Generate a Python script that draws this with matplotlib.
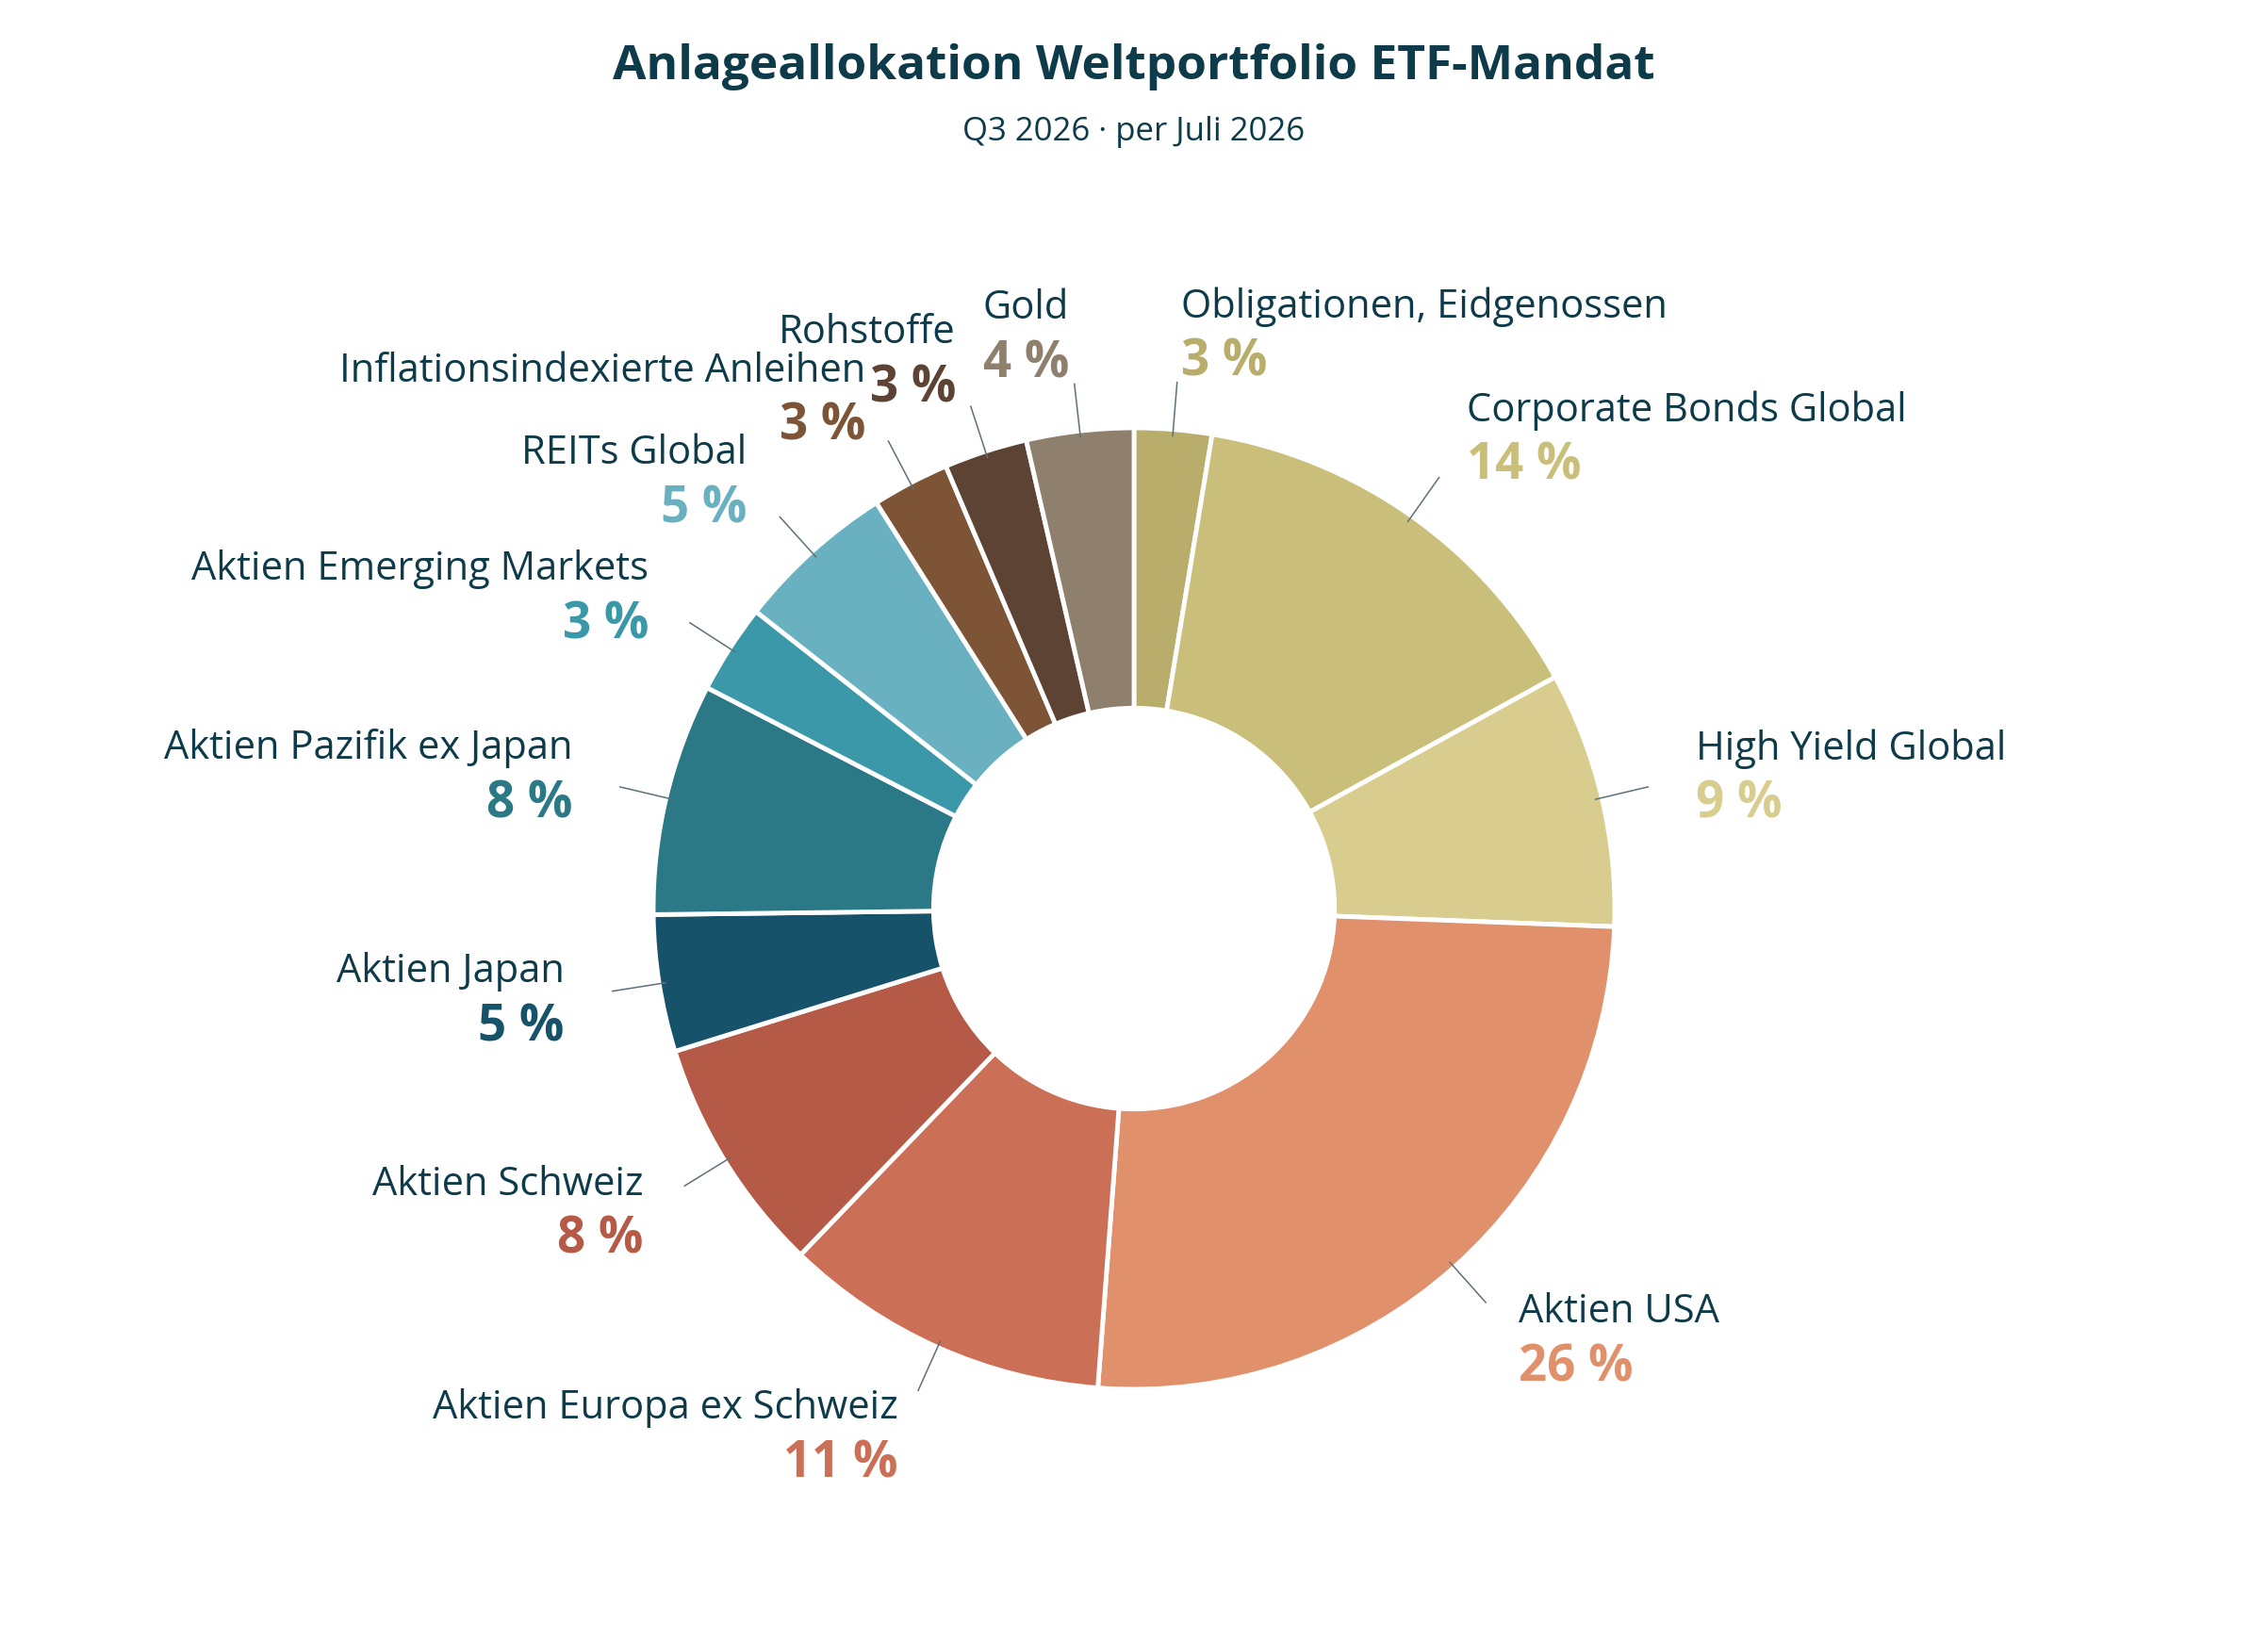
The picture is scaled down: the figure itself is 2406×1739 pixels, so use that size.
import matplotlib.pyplot as plt
import numpy as np

plt.rcParams['font.family'] = ['Open Sans', 'DejaVu Sans']

# Asset classes, clockwise from 12 o'clock
categories = [
    'Obligationen, Eidgenossen', 'Corporate Bonds Global', 'High Yield Global',
    'Aktien USA', 'Aktien Europa ex Schweiz', 'Aktien Schweiz', 'Aktien Japan',
    'Aktien Pazifik ex Japan', 'Aktien Emerging Markets', 'REITs Global',
    'Inflationsindexierte Anleihen', 'Rohstoffe', 'Gold',
]
weights = [2.6, 14.4, 8.6, 25.6, 11.0, 8.0, 4.6, 7.8, 3.0, 5.4, 2.6, 2.8, 3.6]
colors = [
    '#b9ad6b', '#c9bf7a', '#d8cd8e', '#e0916b', '#cb6f56', '#b55a47', '#16526a',
    '#2b7887', '#3a98a8', '#69b1c0', '#7e5436', '#5c4334', '#8f7f6d',
]

text_color = '#0d3b4a'
W, H = 2406, 1740
cx, cy, R = 1203, 965, 510  # pie centre / radius in pixels

fig = plt.figure(figsize=(W / 100, H / 100), dpi=100)
ax = fig.add_axes([0, 0, 1, 1])

wedges, _ = ax.pie(weights, colors=colors, startangle=90, counterclock=False,
                   radius=1.0,
                   wedgeprops=dict(width=0.583, edgecolor='white', linewidth=3.5))

# pie() sets its own limits, so set ours afterwards
ax.set_xlim(-cx / R, (W - cx) / R)
ax.set_ylim(-(H - cy) / R, cy / R)
ax.set_aspect('equal')
ax.axis('off')

for w, name, val, col in zip(wedges, categories, weights, colors):
    ang = np.deg2rad((w.theta1 + w.theta2) / 2)
    dx, dy = np.cos(ang), np.sin(ang)
    ax.plot([0.985 * dx, 1.10 * dx], [0.985 * dy, 1.10 * dy],
            color='#5d707a', lw=1.1, solid_capstyle='butt')
    tx, ty = 1.2 * dx, 1.2 * dy
    ha = 'left' if dx >= 0 else 'right'
    ax.text(tx, ty + 0.058, name, ha=ha, va='center', fontsize=30,
            fontweight='medium', color=text_color)
    ax.text(tx, ty - 0.058, f'{round(val):d} %', ha=ha, va='center',
            fontsize=38, fontweight='bold', color=col)

fig.text(0.5, 1 - 71 / H, 'Anlageallokation Weltportfolio ETF-Mandat',
         ha='center', va='center', fontsize=37, fontweight='bold',
         color=text_color)
fig.text(0.5, 1 - 140 / H, 'Q3 2026 · per Juli 2026', ha='center',
         va='center', fontsize=25, color=text_color)

fig.savefig('out.png', dpi=100, facecolor='white')
